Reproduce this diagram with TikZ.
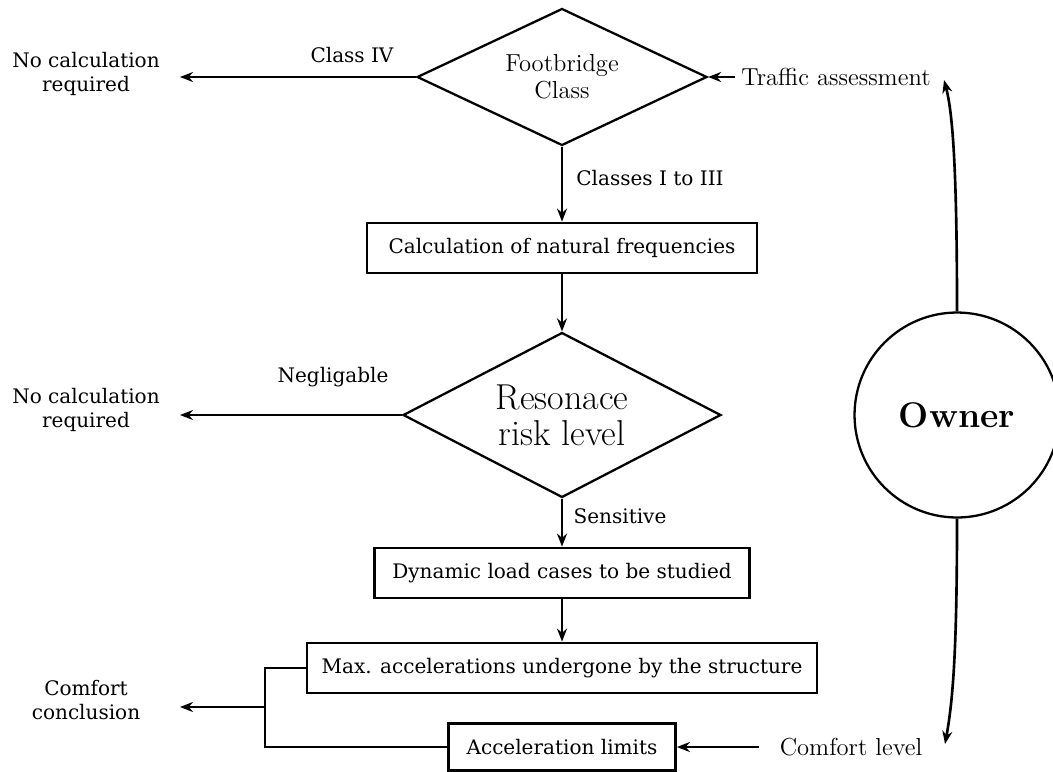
\documentclass[tikz,border=0pt]{standalone}
\usepackage{fontspec}
\newfontfamily\bookfont{DejaVu Serif}
\usepackage{tikz}
\usetikzlibrary{positioning}
\usetikzlibrary{shapes.geometric}
\usetikzlibrary{arrows.meta}

\begin{document}
\begin{tikzpicture}[
	  x=0.02cm, y=-0.02cm,
	  process/.style = {shape=rectangle, draw, line width=1.6pt, align=center, minimum height=1cm, font=\bookfont\fontsize{11.4}{13.5}\selectfont},
	  decision/.style = {shape=diamond, aspect=2, draw, line width=1.3pt, align=center, inner sep=0pt},
	  note/.style = {align=center, font=\bookfont\fontsize{11.4}{13.5}\selectfont},
	  cmnote/.style = {align=center, font=\fontsize{14}{15}\selectfont},
	  arr/.style = {draw, line width=1.5pt, -{Stealth[length=2.6mm, width=2mm]}}
	]
  \useasboundingbox (0,0) rectangle (1053,771);

  % main column
  \node[decision, minimum width=5.8cm, minimum height=2.74cm, font=\fontsize{14}{15.5}\selectfont] (fbclass) at (562,77) {Footbridge\\Class};
  \node[process, minimum width=7.8cm] (natfreq) at (562,248) {Calculation of natural frequencies};
  \node[decision, minimum width=6.36cm, minimum height=3.3cm, font=\fontsize{20.5}{20.5}\selectfont] (resrisk) at (562,415) {Resonace\\risk level};
  \node[process, minimum width=7.5cm] (loadcases) at (562,573) {Dynamic load cases to be studied};
  \node[process, minimum width=10.2cm] (maxacc) at (562,668) {Max. accelerations undergone by the structure};
  \node[process, minimum width=4.54cm, minimum height=0.94cm] (acclim) at (562,747) {Acceleration limits};

  % owner
  \node[circle, draw, line width=1.3pt, minimum size=4.1cm, inner sep=0pt, font=\fontsize{20.3}{23}\selectfont\bfseries] (owner) at (957,415) {Owner};

  % side texts
  \node[note] (nocalc1) at (86,74) {No calculation\\required};
  \node[note] (nocalc2) at (86,410) {No calculation\\required};
  \node[note] (comfconc) at (86,700) {Comfort\\conclusion};
  \node[cmnote] (traffic) at (836,77) {Traffic assessment};
  \node[cmnote] (comflevel) at (851,747) {Comfort level};

  % edge labels
  \node[note] (classiv) at (352,55) {Class IV};
  \node[note] (classes) at (650,178) {Classes I to III};
  \node[note] (neglig) at (333,377) {Negligable};
  \node[note] (sensitive) at (620,516) {Sensitive};

  \coordinate (nc1) at (180,77);
  \coordinate (nc2) at (180,415);
  \coordinate (cc) at (180,707);
  \coordinate (join) at (265,707);
  \coordinate (ta) at (944,80);
  \coordinate (cl) at (945,744);
  \coordinate (clstart) at (759,747);

  \draw[arr] (fbclass.west) -- (nc1);
  \draw[arr] (traffic.west) -- (fbclass.east);
  \draw[arr] (fbclass.south) -- (natfreq.north);
  \draw[arr] (natfreq.south) -- (resrisk.north);
  \draw[arr] (resrisk.west) -- (nc2);
  \draw[arr] (resrisk.south) -- (loadcases.north);
  \draw[arr] (loadcases.south) -- (maxacc.north);
  \draw[line width=1.5pt] (maxacc.west) -| (join) |- (acclim.west);
  \draw[arr] (join) -- (cc);
  \draw[arr] (clstart) -- (acclim.east);

  % owner links
  \draw[arr] (owner.north) .. controls (957,160) and (952,110) .. (ta);
  \draw[arr] (owner.south) .. controls (957,650) and (953,700) .. (cl);
\end{tikzpicture}
\end{document}
